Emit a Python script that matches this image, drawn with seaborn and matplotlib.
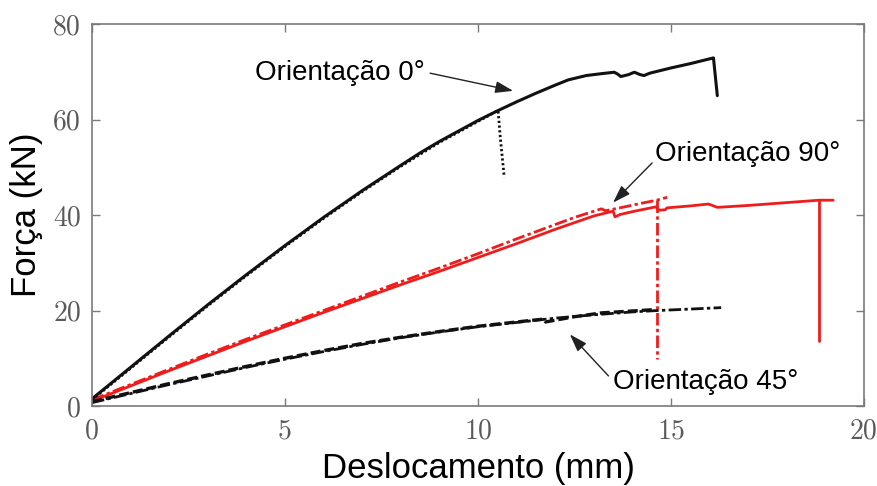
import numpy as np
import pandas as pd
import matplotlib
matplotlib.use("Agg")
import matplotlib.pyplot as plt
import seaborn as sns

# ---------------- data ----------------
# Orientação 0° - solid black
x0_solid = [0, 1, 2, 3, 4, 5, 6, 7, 8, 8.5, 9, 9.5, 10, 10.5, 11, 11.5, 12, 12.34,
            12.8, 13.2, 13.53, 13.62, 13.7, 13.9, 14.05, 14.2, 14.3, 14.45, 15.0,
            15.5, 16.1, 16.2]
y0_solid = [1.5, 8.1, 14.7, 21.2, 27.5, 33.6, 39.5, 45.1, 50.4, 53.0, 55.4, 57.6,
            59.8, 61.8, 63.7, 65.5, 67.2, 68.3, 69.2, 69.6, 69.9, 69.5, 69.0, 69.4,
            69.9, 69.4, 69.2, 69.7, 70.8, 71.7, 72.9, 65.0]
# Orientação 0° - dotted black
x0_dot = [0, 1, 2, 3, 4, 5, 6, 7, 8, 9, 10, 10.52, 10.58, 10.68]
y0_dot = [1.3, 7.9, 14.5, 21.0, 27.3, 33.4, 39.3, 44.9, 50.2, 55.2, 59.6, 61.9, 56.0, 47.9]

# Orientação 90° - solid red (nan splits the drop segment)
x90_solid = [0, 1, 2, 3, 4, 5, 6, 7, 8, 9, 10, 11, 12, 12.5, 13, 13.5, 13.55, 13.68,
             14.0, 14.6, 14.7, 14.85, 14.9, 15.5, 15.97, 16.2, 17, 18, 18.84, 19.2,
             np.nan, 18.84, 18.84]
y90_solid = [1.0, 4.2, 7.4, 10.5, 13.6, 16.6, 19.6, 22.5, 25.4, 28.2, 31.1, 34.0,
             37.0, 38.4, 39.8, 40.8, 39.6, 40.1, 40.7, 41.7, 41.0, 41.1, 41.5, 41.9,
             42.3, 41.6, 42.0, 42.6, 43.1, 43.1, np.nan, 43.1, 13.6]
# Orientação 90° - dash-dot red
x90_dd = [0, 1, 2, 3, 4, 5, 6, 7, 8, 9, 10, 11, 12, 12.5, 13.2, 13.3, 13.68, 14.2,
          14.63, 14.9, np.nan, 14.63, 14.63]
y90_dd = [1.3, 4.5, 7.7, 10.9, 14.0, 17.0, 20.0, 23.0, 26.0, 28.9, 31.9, 35.0, 38.0,
          39.5, 41.3, 40.9, 41.5, 42.4, 43.1, 43.7, np.nan, 43.1, 9.8]

# Orientação 45° - dashed black
x45_dash = [0, 1, 2, 3, 4, 5, 6, 7, 8, 9, 10, 11, 11.7, 11.75, 12.5, 13.2, 14.0, 14.6]
y45_dash = [0.9, 2.8, 4.7, 6.5, 8.3, 10.0, 11.6, 13.1, 14.4, 15.6, 16.7, 17.6, 18.2,
            17.6, 18.7, 19.5, 19.9, 20.2]
# Orientação 45° - dash-dot black
x45_dd = [0, 1, 2, 3, 4, 5, 6, 7, 8, 9, 10, 11, 12, 13, 14, 14.67, 15.5, 16.3]
y45_dd = [0.7, 2.6, 4.5, 6.3, 8.1, 9.8, 11.4, 12.9, 14.3, 15.5, 16.6, 17.5, 18.4,
          19.1, 19.7, 20.0, 20.3, 20.6]

x_ticks = [0, 5, 10, 15, 20]
y_ticks = [0, 20, 40, 60, 80]
x_label = "Deslocamento (mm)"
y_label = "Força (kN)"
annotations = ["Orientação 0°", "Orientação 90°", "Orientação 45°"]

# ---------------- style ----------------
sns.set_theme(style="white")
plt.rcParams["font.family"] = ["Liberation Sans", "DejaVu Sans"]
plt.rcParams["axes.unicode_minus"] = False

RED = "#f01c1c"
BLACK = "#111111"
GRAY = "#7a7a7a"

fig = plt.figure(figsize=(8.78, 4.86), dpi=100)
ax = fig.add_axes([92 / 878, 1 - 406 / 486, (864 - 92) / 878, (406 - 24) / 486])


def segs(x, y):
    df = pd.DataFrame({"x": x, "y": y})
    df["seg"] = df["x"].isna().cumsum()
    return df.dropna()


series = [
    (x90_dd, y90_dd, RED, (0, (4.5, 1.2, 1.2, 1.2)), 2.0),
    (x90_solid, y90_solid, RED, "-", 2.0),
    (x45_dash, y45_dash, BLACK, (0, (3.0, 1.2)), 2.4),
    (x45_dd, y45_dd, BLACK, (0, (4.5, 1.2, 1.2, 1.2)), 2.0),
    (x0_dot, y0_dot, BLACK, (0, (0.8, 0.9)), 2.0),
    (x0_solid, y0_solid, BLACK, "-", 2.2),
]
for xs, ys, col, ls, lw in series:
    d = segs(xs, ys)
    sns.lineplot(data=d, x="x", y="y", units="seg", estimator=None, sort=False,
                 color=col, linestyle=ls, lw=lw, ax=ax, legend=False)

ax.set_xlim(0, 20)
ax.set_ylim(0, 80)
ax.set_xticks(x_ticks)
ax.set_yticks(y_ticks)
ax.set_xticklabels([str(t) for t in x_ticks])
ax.set_yticklabels([str(t) for t in y_ticks])

for sp in ax.spines.values():
    sp.set_visible(True)
    sp.set_color(GRAY)
    sp.set_linewidth(1.2)

ax.tick_params(axis="both", which="both", direction="in", length=5.5, width=1.0,
               color=GRAY, labelcolor="#5a5a5a", top=True, right=True,
               bottom=True, left=True)
ax.tick_params(axis="x", pad=9)
ax.tick_params(axis="y", pad=8)
for lab in ax.get_xticklabels() + ax.get_yticklabels():
    lab.set_family(["cmr10", "DejaVu Serif"])
    lab.set_fontsize(20)

ax.set_xlabel(x_label, fontsize=25, color="black", labelpad=5)
ax.set_ylabel(y_label, fontsize=25, color="black", labelpad=7)

ann_kw = dict(fontsize=20, color="black")
arrow_kw = dict(arrowstyle="-|>,head_length=0.9,head_width=0.3", color="#222222",
                lw=1.0, shrinkA=0, shrinkB=0)

ax.text(8.62, 68.3, annotations[0], ha="right", va="baseline", **ann_kw)
ax.annotate("", xy=(10.91, 66.0), xytext=(8.76, 69.7), arrowprops=arrow_kw)

ax.text(14.59, 51.4, annotations[1], ha="left", va="baseline", **ann_kw)
ax.annotate("", xy=(13.5, 42.6), xytext=(14.51, 50.9), arrowprops=arrow_kw)

ax.text(13.5, 3.5, annotations[2], ha="left", va="baseline", **ann_kw)
ax.annotate("", xy=(12.38, 15.0), xytext=(13.38, 6.3), arrowprops=arrow_kw)

ax.set_facecolor("white")
fig.patch.set_facecolor("white")
fig.savefig("out.png", dpi=100, facecolor="white")
